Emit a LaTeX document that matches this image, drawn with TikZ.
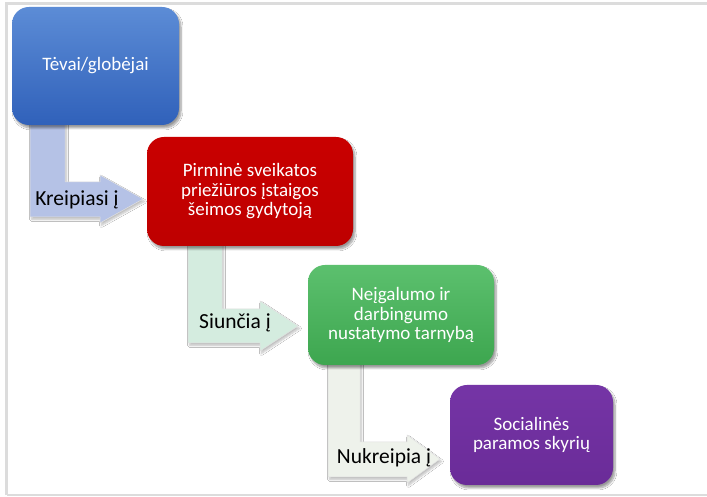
\documentclass[tikz,border=0pt]{standalone}
\usepackage{fontspec}
\setmainfont{Carlito}
\usetikzlibrary{shadows.blur}
\definecolor{frameg}{HTML}{DCDCDC}
\definecolor{bluetop}{HTML}{5C8CD6}
\definecolor{bluebot}{HTML}{3061BA}
\definecolor{redtop}{HTML}{C90000}
\definecolor{redbot}{HTML}{BE0000}
\definecolor{greentop}{HTML}{5CC06E}
\definecolor{greenbot}{HTML}{3DA64F}
\definecolor{purptop}{HTML}{7535A6}
\definecolor{purpbot}{HTML}{6A2B98}
\definecolor{arrA}{HTML}{B5C2E6}
\definecolor{arrB}{HTML}{D4ECDF}
\definecolor{arrC}{HTML}{EEF2EB}
\tikzset{
  boxst/.style={rounded corners=17pt, text=white, align=center,
    font=\fontsize{19}{19.5}\selectfont, inner sep=0pt,
    blur shadow={shadow xshift=2pt, shadow yshift=-3pt, shadow blur steps=8, shadow opacity=40}},
  arrst/.style={draw=black!12, line width=0.5pt,
    blur shadow={shadow xshift=1.5pt, shadow yshift=-2.5pt, shadow blur steps=6, shadow opacity=25}},
  lblst/.style={text=black, font=\fontsize{21.5}{23}\selectfont, inner sep=0pt}
}
\begin{document}
\begin{tikzpicture}[x=1pt,y=1pt]
\useasboundingbox (0,0) rectangle (707,497);
\fill[white] (0,0) rectangle (707,497);
% frame
\draw[frameg, line width=2.5pt] (6.5,1.5) -- (6.5,493.5) -- (707,493.5);
\draw[frameg, line width=2pt] (6.5,1.5) -- (707,1.5);
% bent arrows
\path[arrst, fill=arrA] (30,380) -- (65,380) -- (65,315) -- (100,315) -- (100,322) -- (143,298) -- (100,274) -- (100,280) -- (30,280) -- cycle;
\path[arrst, fill=arrB] (188,257) -- (222,257) -- (222,188) -- (260,188) -- (260,196) -- (298,171) -- (260,146) -- (260,154) -- (188,154) -- cycle;
\path[arrst, fill=arrC] (328,140) -- (360,140) -- (360,55) -- (407,55) -- (407,62) -- (440,38) -- (407,14) -- (407,20) -- (328,20) -- cycle;
% boxes
\node[boxst, minimum width=167pt, minimum height=118pt, top color=bluetop, bottom color=bluebot] (parents) at (95.5,431) {Tėvai/globėjai};
\node[boxst, minimum width=206pt, minimum height=109pt, top color=redtop, bottom color=redbot] (doctor) at (250,305.5) {Pirminė sveikatos\\priežiūros įstaigos\\šeimos gydytoją};
\node[boxst, minimum width=186pt, minimum height=100pt, top color=greentop, bottom color=greenbot] (service) at (401,182) {Neįgalumo ir\\darbingumo\\nustatymo tarnybą};
\node[boxst, minimum width=163pt, minimum height=100pt, top color=purptop, bottom color=purpbot] (social) at (531.5,62) {Socialinės\\paramos skyrių};
% labels
\node[lblst] (l1) at (77,297) {Kreipiasi į};
\node[lblst] (l2) at (235,174) {Siunčia į};
\node[lblst] (l3) at (384,39) {Nukreipia į};
\end{tikzpicture}
\end{document}
